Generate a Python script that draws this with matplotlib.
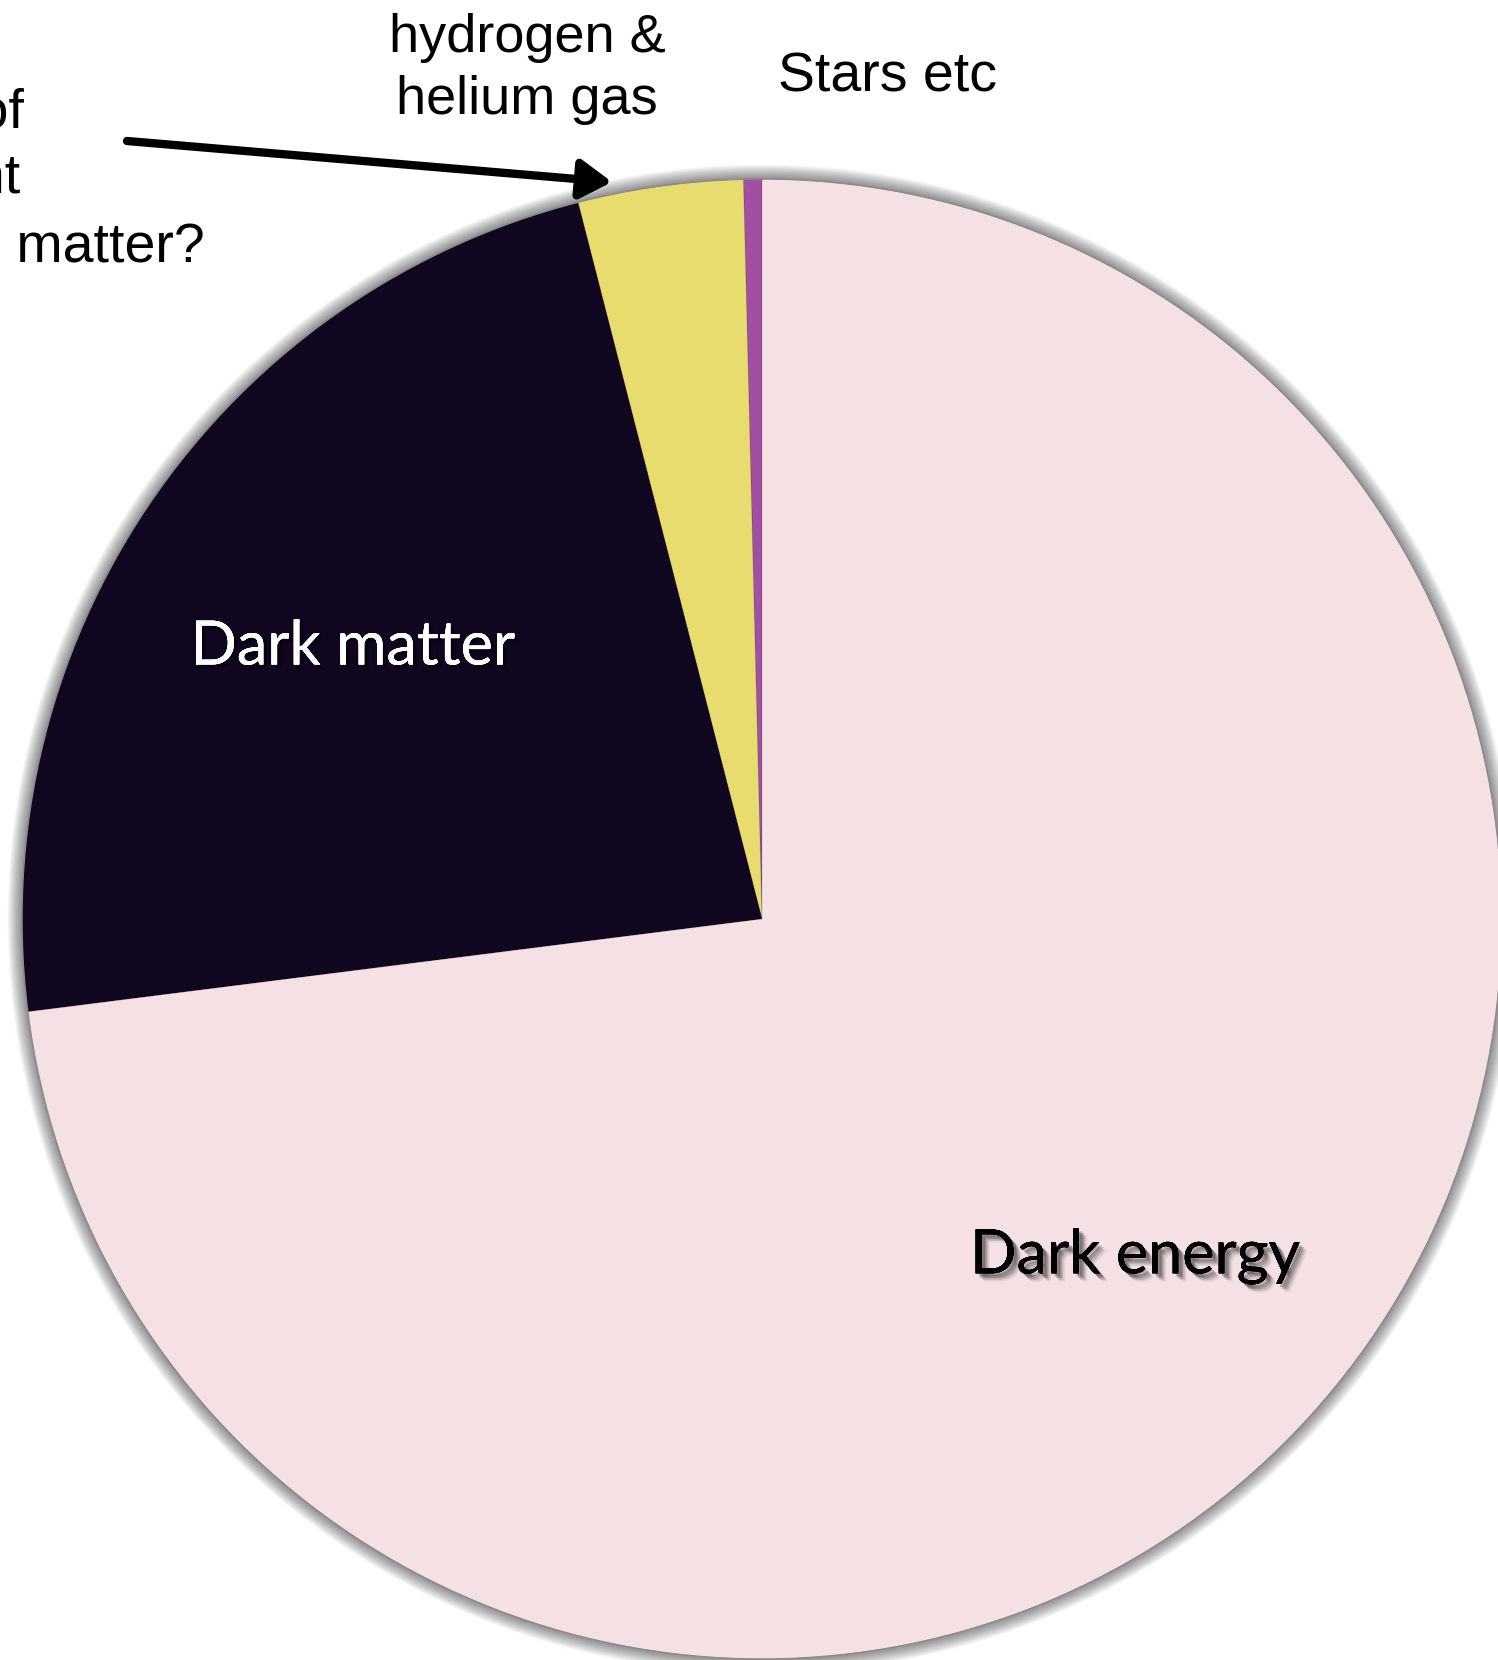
import matplotlib
matplotlib.use("Agg")
import matplotlib.pyplot as plt
from matplotlib.patches import Circle
import matplotlib.patheffects as pe

# Composition of the universe (percent of total energy density)
components = ["Stars etc", "hydrogen & helium gas", "Dark matter", "Dark energy"]
shares = [0.4, 3.6, 23.0, 73.0]
colors = ["#a24ea3", "#e8dc6e", "#10061f", "#f5e1e3"]

W, H = 1498, 1660
fig = plt.figure(figsize=(W / 100, H / 100), dpi=100)
ax = fig.add_axes([0, 0, 1, 1])

cx, cy, R = 762, H - 919, 740

# soft glow around the disc
for i in range(16, 0, -1):
    ax.add_patch(Circle((cx, cy), R + i * 0.9, color="black", alpha=0.03,
                        lw=0, zorder=0))

wedges, _ = ax.pie(shares, colors=colors, startangle=90, counterclock=True,
                   center=(cx, cy), radius=R, frame=True,
                   wedgeprops=dict(linewidth=0.6, edgecolor=(0, 0, 0, 0.15)))
ax.set_xlim(0, W)
ax.set_ylim(0, H)
ax.set_aspect("equal")
ax.axis("off")
ax.add_patch(Circle((cx, cy), R, fill=False, ec="#8c8c8c", lw=1.0, zorder=5))


def soft_shadow(offset, rgb, spread):
    effects = []
    for d, a in [(offset + 2 * spread, 0.08), (offset + spread, 0.14),
                 (offset, 0.22), (offset - spread, 0.22)]:
        effects.append(pe.withSimplePatchShadow(offset=(d, -d), shadow_rgbFace=rgb,
                                                alpha=a))
    effects.append(pe.Normal())
    return effects


label_font = ["Lato", "DejaVu Sans"]
ax.text(353, H - 647, "Dark matter", color="white", fontsize=44,
        family=label_font, ha="center", va="center", zorder=6,
        path_effects=soft_shadow(2.0, "black", 0.8))
ax.text(1135, H - 1256, "Dark energy", color="black", fontsize=44,
        family=label_font, ha="center", va="center", zorder=6,
        path_effects=soft_shadow(3.5, "black", 1.2))

note_font = ["Liberation Sans", "DejaVu Sans"]
ax.text(527, H - 69, "hydrogen &\nhelium gas", fontsize=39, family=note_font,
        ha="center", va="center", linespacing=1.32, color="black")
ax.text(888, H - 78, components[0], fontsize=40, family=note_font,
        ha="center", va="center", color="black")

# question on the left edge
ax.text(24, H - 113, "Home of", fontsize=40, family=note_font,
        ha="right", va="center", color="black")
ax.text(20, H - 179, "in the light", fontsize=40, family=note_font,
        ha="right", va="center", color="black")
ax.text(205, H - 248, "baryonic matter?", fontsize=40, family=note_font,
        ha="right", va="center", color="black")

ax.annotate("", xy=(612, H - 182), xytext=(127, H - 141),
            arrowprops=dict(arrowstyle="-|>,head_length=0.45,head_width=0.28",
                            lw=6, color="black", mutation_scale=42,
                            shrinkA=0, shrinkB=0))

fig.savefig("out.png", dpi=100)
